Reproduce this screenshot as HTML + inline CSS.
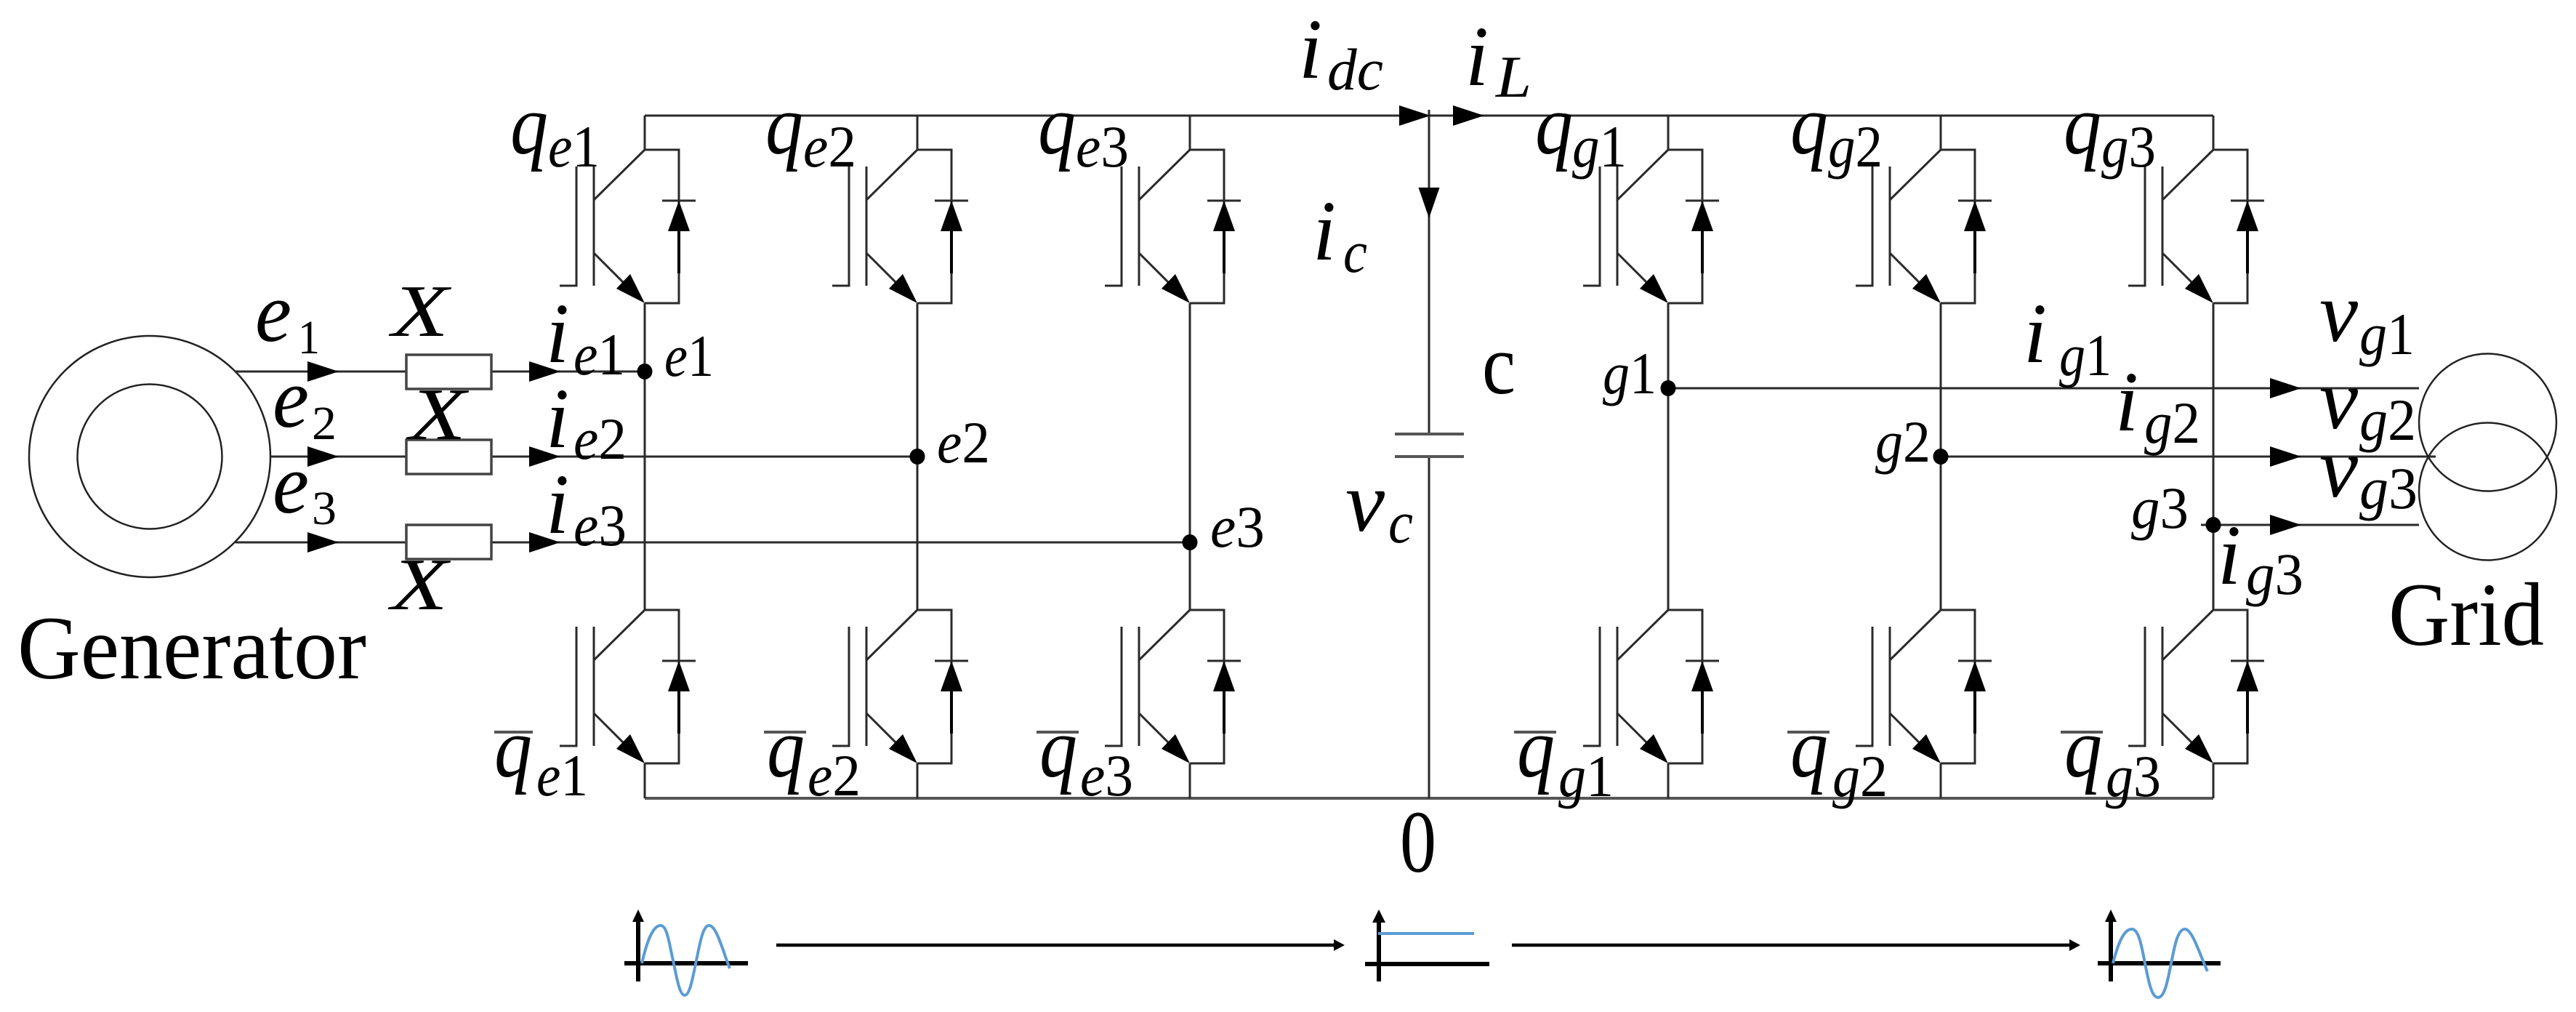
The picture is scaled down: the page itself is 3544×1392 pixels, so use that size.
<!DOCTYPE html>
<html><head><meta charset="utf-8"><title>Converter diagram</title>
<style>
html,body{margin:0;padding:0;background:#fff}
svg{display:block}
text{font-family:"Liberation Serif",serif;fill:#000}
.i{font-style:italic}
.r{font-style:normal}
.w{stroke:#2a2a2a;stroke-width:3;fill:none}
.b{stroke:#555;stroke-width:4;fill:none}
.t{stroke:#222;stroke-width:2.5;fill:none}
.ax{stroke:#000;fill:none}
.sin{stroke:#5b9bd5;stroke-width:4;fill:none}
</style></head><body>
<svg xmlns="http://www.w3.org/2000/svg" width="3544" height="1392" viewBox="0 0 3544 1392">
<rect width="3544" height="1392" fill="#fff"/>
<defs>
<g id="sw">
<path class="w" d="M-70 23V187M-94 23V187H-117"/>
<path class="w" d="M0 0L-70 69M-70 142L-20 192"/>
<path class="w" d="M0 0H47V211H0"/>
<path class="w" d="M24 70H70"/>
<path d="M47 70L32 112H62Z" fill="#000"/>
<path d="M47 112V170" stroke="#000" stroke-width="4"/>
<path d="M0 211L-20 171L-39 191Z" fill="#000"/>
</g>
<path id="ar" d="M0 -14L43 0L0 14Z" fill="#000"/>
</defs>

<!-- rails -->
<path class="w" d="M887 159H3045"/>
<path class="b" d="M887 1098H3045"/>

<!-- columns -->
<path class="w" d="M887 159V206M887 417V839M887 1050V1098"/>
<path class="w" d="M1262 159V206M1262 417V839M1262 1050V1098"/>
<path class="w" d="M1637 159V206M1637 417V839M1637 1050V1098"/>
<path class="w" d="M2295 159V206M2295 417V839M2295 1050V1098"/>
<path class="w" d="M2670 159V206M2670 417V839M2670 1050V1098"/>
<path class="w" d="M3045 159V206M3045 417V839M3045 1050V1098"/>

<!-- switches -->
<use href="#sw" x="887" y="206"/><use href="#sw" x="1262" y="206"/><use href="#sw" x="1637" y="206"/>
<use href="#sw" x="2295" y="206"/><use href="#sw" x="2670" y="206"/><use href="#sw" x="3045" y="206"/>
<use href="#sw" x="887" y="839"/><use href="#sw" x="1262" y="839"/><use href="#sw" x="1637" y="839"/>
<use href="#sw" x="2295" y="839"/><use href="#sw" x="2670" y="839"/><use href="#sw" x="3045" y="839"/>

<!-- generator -->
<circle class="t" cx="206" cy="628" r="166"/>
<circle class="t" cx="206" cy="628" r="99.5"/>
<path class="w" d="M324 511H887M372 628H1262M324 746H1637"/>
<rect x="559" y="488" width="117" height="47" fill="#fff" stroke="#444" stroke-width="3.5"/>
<rect x="559" y="605" width="117" height="47" fill="#fff" stroke="#444" stroke-width="3.5"/>
<rect x="559" y="722" width="117" height="47" fill="#fff" stroke="#444" stroke-width="3.5"/>
<use href="#ar" x="423" y="511"/><use href="#ar" x="423" y="628"/><use href="#ar" x="423" y="746"/>
<use href="#ar" x="728" y="511"/><use href="#ar" x="728" y="628"/><use href="#ar" x="728" y="746"/>
<ellipse cx="887" cy="511" rx="10.5" ry="11" fill="#000"/>
<ellipse cx="1262" cy="628" rx="10.5" ry="11" fill="#000"/>
<ellipse cx="1637" cy="746" rx="10.5" ry="11" fill="#000"/>

<!-- dc link -->
<path class="w" d="M1966 151V597M1966 628V1098"/>
<path class="b" d="M1919 597H2014M1919 628H2014"/>
<use href="#ar" x="1925" y="159"/><use href="#ar" x="1999" y="159"/>
<path d="M1951.5 258H1980.5L1966 300Z" fill="#000"/>

<!-- grid -->
<path class="w" d="M2295 534H3328M2670 628H3351M3028 722H3328"/>
<use href="#ar" x="3123" y="534"/><use href="#ar" x="3123" y="628"/><use href="#ar" x="3123" y="722"/>
<ellipse cx="2295" cy="534" rx="10.5" ry="11" fill="#000"/>
<ellipse cx="2670" cy="628" rx="10.5" ry="11" fill="#000"/>
<ellipse cx="3045" cy="722" rx="10.5" ry="11" fill="#000"/>
<circle class="t" cx="3422.5" cy="581" r="94.5"/>
<circle class="t" cx="3422.5" cy="676" r="94.5"/>

<!-- bottom icons -->
<path class="ax" stroke-width="6" d="M878 1266V1350M859 1325H1029"/>
<path d="M878 1251L870 1268H886Z" fill="#000"/>
<path class="sin" d="M883 1325C890 1295 898 1273 909 1273C918 1273 921 1300 926 1321C931 1345 935 1369 942 1369C949 1369 953 1345 958 1321C963 1297 967 1273 975.5 1273C986 1273 995 1310 1004 1332"/>
<path class="ax" stroke-width="6" d="M1897 1266V1350M1878 1326H2049"/>
<path d="M1897 1251L1888 1269H1906Z" fill="#000"/>
<path class="sin" d="M1896 1284H2028"/>
<path class="ax" stroke-width="6" d="M2904 1266V1350M2886 1325H3055"/>
<path d="M2904 1251L2896 1268H2912Z" fill="#000"/>
<path class="sin" d="M2907 1325C2914 1297 2922 1278 2933 1278C2943 1278 2947 1305 2951 1325C2956 1350 2960 1372 2969 1372C2978 1372 2982 1350 2987 1325C2992 1300 2996 1278 3006 1278C3016 1278 3026 1312 3037 1336"/>
<path class="ax" stroke-width="4.5" d="M1068 1300H1838M2080 1300H2850"/>
<path d="M1850 1300L1835 1292V1308Z" fill="#000"/>
<path d="M2862 1300L2847 1292V1308Z" fill="#000"/>

<!-- overbars -->
<path class="b" stroke-width="3" d="M680 1007H733M1051 1007H1109M1426 1007H1484M2083 1007H2141M2459 1007H2517M2835 1007H2893"/>

<!-- labels: switches -->
<text class="i" x="702" y="211" font-size="118" textLength="52" lengthAdjust="spacingAndGlyphs">q</text><text class="i" x="754" y="229" font-size="82" textLength="71" lengthAdjust="spacingAndGlyphs">e<tspan class="r">1</tspan></text>
<text class="i" x="1053" y="211" font-size="118" textLength="52" lengthAdjust="spacingAndGlyphs">q</text><text class="i" x="1105" y="229" font-size="82" textLength="73" lengthAdjust="spacingAndGlyphs">e<tspan class="r">2</tspan></text>
<text class="i" x="1428" y="211" font-size="118" textLength="52" lengthAdjust="spacingAndGlyphs">q</text><text class="i" x="1480" y="229" font-size="82" textLength="73" lengthAdjust="spacingAndGlyphs">e<tspan class="r">3</tspan></text>
<text class="i" x="2112" y="211" font-size="118" textLength="52" lengthAdjust="spacingAndGlyphs">q</text><text class="i" x="2163" y="229" font-size="82" textLength="75" lengthAdjust="spacingAndGlyphs">g<tspan class="r">1</tspan></text>
<text class="i" x="2463" y="211" font-size="118" textLength="52" lengthAdjust="spacingAndGlyphs">q</text><text class="i" x="2515" y="229" font-size="82" textLength="75" lengthAdjust="spacingAndGlyphs">g<tspan class="r">2</tspan></text>
<text class="i" x="2839" y="211" font-size="118" textLength="52" lengthAdjust="spacingAndGlyphs">q</text><text class="i" x="2891" y="229" font-size="82" textLength="75" lengthAdjust="spacingAndGlyphs">g<tspan class="r">3</tspan></text>

<text class="i" x="680" y="1068" font-size="118" textLength="52" lengthAdjust="spacingAndGlyphs">q</text><text class="i" x="738" y="1094" font-size="82" textLength="71" lengthAdjust="spacingAndGlyphs">e<tspan class="r">1</tspan></text>
<text class="i" x="1055" y="1068" font-size="118" textLength="52" lengthAdjust="spacingAndGlyphs">q</text><text class="i" x="1111" y="1094" font-size="82" textLength="73" lengthAdjust="spacingAndGlyphs">e<tspan class="r">2</tspan></text>
<text class="i" x="1430" y="1068" font-size="118" textLength="52" lengthAdjust="spacingAndGlyphs">q</text><text class="i" x="1486" y="1094" font-size="82" textLength="73" lengthAdjust="spacingAndGlyphs">e<tspan class="r">3</tspan></text>
<text class="i" x="2087" y="1068" font-size="118" textLength="52" lengthAdjust="spacingAndGlyphs">q</text><text class="i" x="2144" y="1095" font-size="82" textLength="76" lengthAdjust="spacingAndGlyphs">g<tspan class="r">1</tspan></text>
<text class="i" x="2463" y="1068" font-size="118" textLength="52" lengthAdjust="spacingAndGlyphs">q</text><text class="i" x="2521" y="1095" font-size="82" textLength="76" lengthAdjust="spacingAndGlyphs">g<tspan class="r">2</tspan></text>
<text class="i" x="2840" y="1068" font-size="118" textLength="52" lengthAdjust="spacingAndGlyphs">q</text><text class="i" x="2897" y="1095" font-size="82" textLength="76" lengthAdjust="spacingAndGlyphs">g<tspan class="r">3</tspan></text>

<!-- labels: generator side -->
<text x="24" y="933" font-size="124" textLength="480" lengthAdjust="spacingAndGlyphs">Generator</text>
<text class="i" x="351" y="469" font-size="118" textLength="50" lengthAdjust="spacingAndGlyphs">e</text><text class="r" x="410" y="486" font-size="66" textLength="30" lengthAdjust="spacingAndGlyphs">1</text>
<text class="i" x="375" y="587" font-size="118" textLength="50" lengthAdjust="spacingAndGlyphs">e</text><text class="r" x="429" y="604" font-size="66" textLength="34" lengthAdjust="spacingAndGlyphs">2</text>
<text class="i" x="375" y="705" font-size="118" textLength="50" lengthAdjust="spacingAndGlyphs">e</text><text class="r" x="429" y="721" font-size="66" textLength="34" lengthAdjust="spacingAndGlyphs">3</text>
<text class="i" x="539" y="462" font-size="102" textLength="78" lengthAdjust="spacingAndGlyphs">X</text>
<text class="i" x="563" y="604" font-size="102" textLength="78" lengthAdjust="spacingAndGlyphs">X</text>
<text class="i" x="538" y="838" font-size="102" textLength="78" lengthAdjust="spacingAndGlyphs">X</text>
<text class="i" x="751" y="498" font-size="118" textLength="32" lengthAdjust="spacingAndGlyphs">i</text><text class="i" x="789" y="515" font-size="82" textLength="71" lengthAdjust="spacingAndGlyphs">e<tspan class="r">1</tspan></text>
<text class="i" x="751" y="615" font-size="118" textLength="32" lengthAdjust="spacingAndGlyphs">i</text><text class="i" x="789" y="631" font-size="82" textLength="73" lengthAdjust="spacingAndGlyphs">e<tspan class="r">2</tspan></text>
<text class="i" x="751" y="733" font-size="118" textLength="32" lengthAdjust="spacingAndGlyphs">i</text><text class="i" x="789" y="750" font-size="82" textLength="73" lengthAdjust="spacingAndGlyphs">e<tspan class="r">3</tspan></text>
<text class="i" x="914" y="517" font-size="82" textLength="68" lengthAdjust="spacingAndGlyphs">e<tspan class="r">1</tspan></text>
<text class="i" x="1289" y="636" font-size="82" textLength="73" lengthAdjust="spacingAndGlyphs">e<tspan class="r">2</tspan></text>
<text class="i" x="1665" y="752" font-size="82" textLength="75" lengthAdjust="spacingAndGlyphs">e<tspan class="r">3</tspan></text>

<!-- labels: dc link -->
<text class="i" x="1787" y="107" font-size="118" textLength="32" lengthAdjust="spacingAndGlyphs">i</text><text class="i" x="1826" y="123" font-size="82" textLength="77" lengthAdjust="spacingAndGlyphs">dc</text>
<text class="i" x="2016" y="117" font-size="118" textLength="32" lengthAdjust="spacingAndGlyphs">i</text><text class="i" x="2058" y="133" font-size="82" textLength="49" lengthAdjust="spacingAndGlyphs">L</text>
<text class="i" x="1806" y="357" font-size="118" textLength="32" lengthAdjust="spacingAndGlyphs">i</text><text class="i" x="1848" y="374" font-size="82" textLength="33" lengthAdjust="spacingAndGlyphs">c</text>
<text x="2039" y="541" font-size="118" textLength="46" lengthAdjust="spacingAndGlyphs">c</text>
<text class="i" x="1851" y="730" font-size="118" textLength="54" lengthAdjust="spacingAndGlyphs">v</text><text class="i" x="1910" y="746" font-size="82" textLength="34" lengthAdjust="spacingAndGlyphs">c</text>
<text x="1926" y="1199" font-size="122" textLength="50" lengthAdjust="spacingAndGlyphs">0</text>

<!-- labels: grid side -->
<text class="i" x="2205" y="541" font-size="82" textLength="74" lengthAdjust="spacingAndGlyphs">g<tspan class="r">1</tspan></text>
<text class="i" x="2580" y="635" font-size="82" textLength="76" lengthAdjust="spacingAndGlyphs">g<tspan class="r">2</tspan></text>
<text class="i" x="2932" y="726" font-size="82" textLength="79" lengthAdjust="spacingAndGlyphs">g<tspan class="r">3</tspan></text>
<text class="i" x="2784" y="498" font-size="118" textLength="32" lengthAdjust="spacingAndGlyphs">i</text><text class="i" x="2833" y="516" font-size="82" textLength="72" lengthAdjust="spacingAndGlyphs">g<tspan class="r">1</tspan></text>
<text class="i" x="2910" y="592" font-size="118" textLength="32" lengthAdjust="spacingAndGlyphs">i</text><text class="i" x="2950" y="609" font-size="82" textLength="77" lengthAdjust="spacingAndGlyphs">g<tspan class="r">2</tspan></text>
<text class="i" x="3051" y="803" font-size="118" textLength="32" lengthAdjust="spacingAndGlyphs">i</text><text class="i" x="3090" y="817" font-size="82" textLength="79" lengthAdjust="spacingAndGlyphs">g<tspan class="r">3</tspan></text>
<text class="i" x="3191" y="469" font-size="118" textLength="53" lengthAdjust="spacingAndGlyphs">v</text><text class="i" x="3246" y="487" font-size="82" textLength="76" lengthAdjust="spacingAndGlyphs">g<tspan class="r">1</tspan></text>
<text class="i" x="3191" y="589" font-size="118" textLength="53" lengthAdjust="spacingAndGlyphs">v</text><text class="i" x="3246" y="605" font-size="82" textLength="78" lengthAdjust="spacingAndGlyphs">g<tspan class="r">2</tspan></text>
<text class="i" x="3191" y="683" font-size="118" textLength="53" lengthAdjust="spacingAndGlyphs">v</text><text class="i" x="3246" y="699" font-size="82" textLength="80" lengthAdjust="spacingAndGlyphs">g<tspan class="r">3</tspan></text>
<text x="3286" y="887" font-size="124" textLength="214" lengthAdjust="spacingAndGlyphs">Grid</text>
</svg>
</body></html>
